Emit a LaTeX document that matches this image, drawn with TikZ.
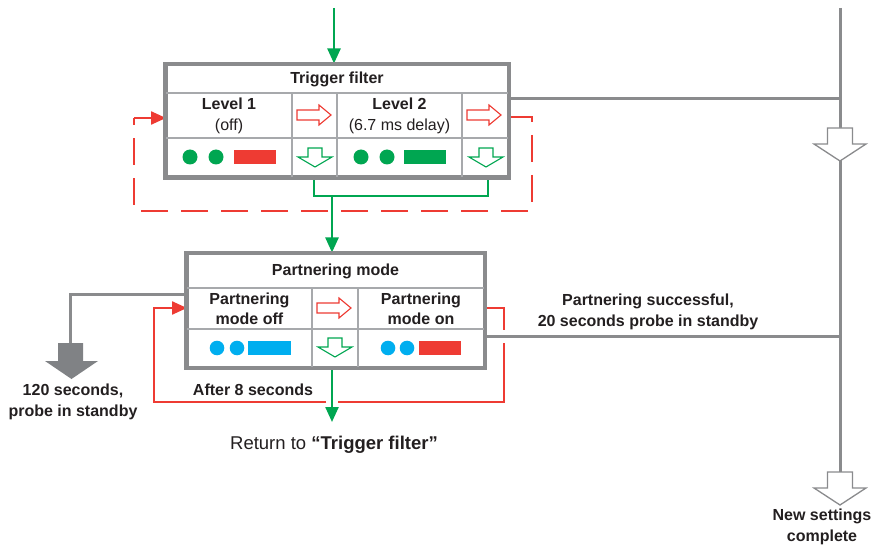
\documentclass[tikz,border=0pt]{standalone}
\usepackage{fontspec}
\setmainfont{Liberation Sans}
\usetikzlibrary{arrows.meta}
\definecolor{cgray}{HTML}{8A8B8D}
\definecolor{cgrid}{HTML}{A7A9AC}
\definecolor{cfill}{HTML}{808285}
\definecolor{cgreen}{HTML}{00A651}
\definecolor{cred}{HTML}{EE3B33}
\definecolor{cblue}{HTML}{00AEEF}
\definecolor{cdark}{HTML}{231F20}
\begin{document}
\begin{tikzpicture}[x=1pt,y=-1pt,
  font=\fontsize{16}{20.5}\selectfont, text=cdark,
  framebox/.style={draw=cgray, line width=3pt, fill=white, rectangle, inner sep=0pt},
  gridline/.style={draw=cgrid, line width=1.3pt},
  lbl/.style={align=center, inner sep=0pt},
  glink/.style={draw=cgray, line width=3pt},
  grn/.style={draw=cgreen, line width=2.4pt},
  rdl/.style={draw=cred, line width=2.3pt},
  arrowtip/.style={-{Triangle[length=15pt,width=13pt]}},
  rarrow/.pic={\draw[cred, line width=1.1pt, fill=white] (-17,-5) -- (5,-5) -- (5,-10) -- (17,0) -- (5,10) -- (5,5) -- (-17,5) -- cycle;},
  darrow/.pic={\draw[cgreen, line width=1.1pt, fill=white] (-7,-9) -- (7,-9) -- (7,0) -- (17,0) -- (0,10) -- (-17,0) -- (-7,0) -- cycle;},
  bigarrow/.pic={\draw[cgray, line width=1.3pt, fill=white] (-12.5,-16) -- (12.5,-16) -- (12.5,0) -- (26,0) -- (0,17) -- (-26,0) -- (-12.5,0) -- cycle;}
]
\useasboundingbox (0,0) rectangle (876,548);

% ---- right-hand gray bus ----
\coordinate (bustop) at (840,8);
\coordinate (busbot) at (840,472);
\coordinate (busA) at (840,99);
\coordinate (busB) at (840,336);
\draw[glink] (bustop) -- (busbot);

% ---- boxes ----
\node[framebox, minimum width=342pt, minimum height=112pt] (tf) at (337,121) {};
\node[framebox, minimum width=297pt, minimum height=113pt] (pm) at (335.5,310.5) {};

% ---- gray connectors ----
\draw[glink] (508,99) -- (busA);
\draw[glink] (484,336) -- (busB);
\coordinate (gcorner) at (70.5,295);
\draw[glink] (187,295) -- (gcorner) -- (70.5,344);
\fill[cfill] (58,343) -- (83,343) -- (83,361) -- (98,361) -- (71.5,379) -- (45,361) -- (58,361) -- cycle;
\pic at (840,144) {bigarrow};
\pic at (840,488) {bigarrow};

% ---- green connectors ----
\coordinate (gtop) at (334,8);
\draw[grn, arrowtip] (gtop) -- (gtop |- tf.north);
\draw[grn] (314,177) -- (314,196) -- (488,196) -- (488,177);
\coordinate (gmid) at (332,196);
\draw[grn, arrowtip] (gmid) -- (gmid |- pm.north);
\coordinate (gout) at (332,422);
\draw[grn, arrowtip] (gout |- pm.south) -- (gout);

% ---- red connectors ----
\draw[rdl, dash pattern=on 27pt off 13pt] (510,117) -- (532,117) -- (532,211) -- (134,211) -- (134,118);
\draw[rdl, arrowtip] (134,118) -- (166,118);
\draw[rdl] (484,308) -- (504,308) -- (504,330);
\draw[rdl] (504,343) -- (504,402) -- (338,402);
\draw[rdl, arrowtip] (326,402) -- (154,402) -- (154,308) -- (187,308);

% ---- trigger filter grid ----
\draw[gridline] (166,93) -- (508,93);
\draw[gridline] (166,138) -- (508,138);
\foreach \x in {292,337,462} \draw[gridline] (\x,93) -- (\x,177);
\draw[cgray, line width=3pt] (tf.north west) rectangle (tf.south east);

% ---- partnering grid ----
\draw[gridline] (187,288) -- (484,288);
\draw[gridline] (187,329) -- (484,329);
\foreach \x in {312,358} \draw[gridline] (\x,288) -- (\x,367);
\draw[cgray, line width=3pt] (pm.north west) rectangle (pm.south east);

% ---- trigger filter content ----
\node[lbl] (tftitle) at (337,79) {\textbf{Trigger filter}};
\node[lbl] (lev1) at (229,116) {\textbf{Level 1}\\(off)};
\node[lbl] (lev2) at (399.5,116) {\textbf{Level 2}\\(6.7 ms delay)};
\pic at (314,115) {rarrow};
\pic at (484,115) {rarrow};
\pic at (315,157) {darrow};
\pic at (486,157) {darrow};
\fill[cgreen] (190,157) circle (7.5);
\fill[cgreen] (216,157) circle (7.5);
\fill[cred] (234,150.5) rectangle (276,164.5);
\fill[cgreen] (361,157) circle (7.5);
\fill[cgreen] (387,157) circle (7.5);
\fill[cgreen] (404,150.5) rectangle (446,164.5);

% ---- partnering content ----
\node[lbl] (pmtitle) at (335.5,271) {\textbf{Partnering mode}};
\node[lbl] (pmoff) at (249.5,309) {\textbf{Partnering}\\\textbf{mode off}};
\node[lbl] (pmon) at (421,309) {\textbf{Partnering}\\\textbf{mode on}};
\pic at (334,308) {rarrow};
\pic at (335,347) {darrow};
\fill[cblue] (217,348) circle (7.3);
\fill[cblue] (237,348) circle (7.3);
\fill[cblue] (248,341) rectangle (291,355);
\fill[cblue] (388,348) circle (7.3);
\fill[cblue] (407,348) circle (7.3);
\fill[cred] (419,341) rectangle (461,355);

% ---- free labels ----
\node[lbl] (succ) at (648,312) {\textbf{Partnering successful,}\\\textbf{20 seconds probe in standby}};
\node[lbl] (stby) at (73,402) {\textbf{120 seconds,}\\\textbf{probe in standby}};
\node[lbl] (after) at (253,390) {\textbf{After 8 seconds}};
\node[lbl, font=\fontsize{18.5}{22}\selectfont] (ret) at (334,445) {Return to \textbf{“Trigger filter”}};
\node[lbl] (done) at (822,527) {\textbf{New settings}\\\textbf{complete}};
\end{tikzpicture}
\end{document}
